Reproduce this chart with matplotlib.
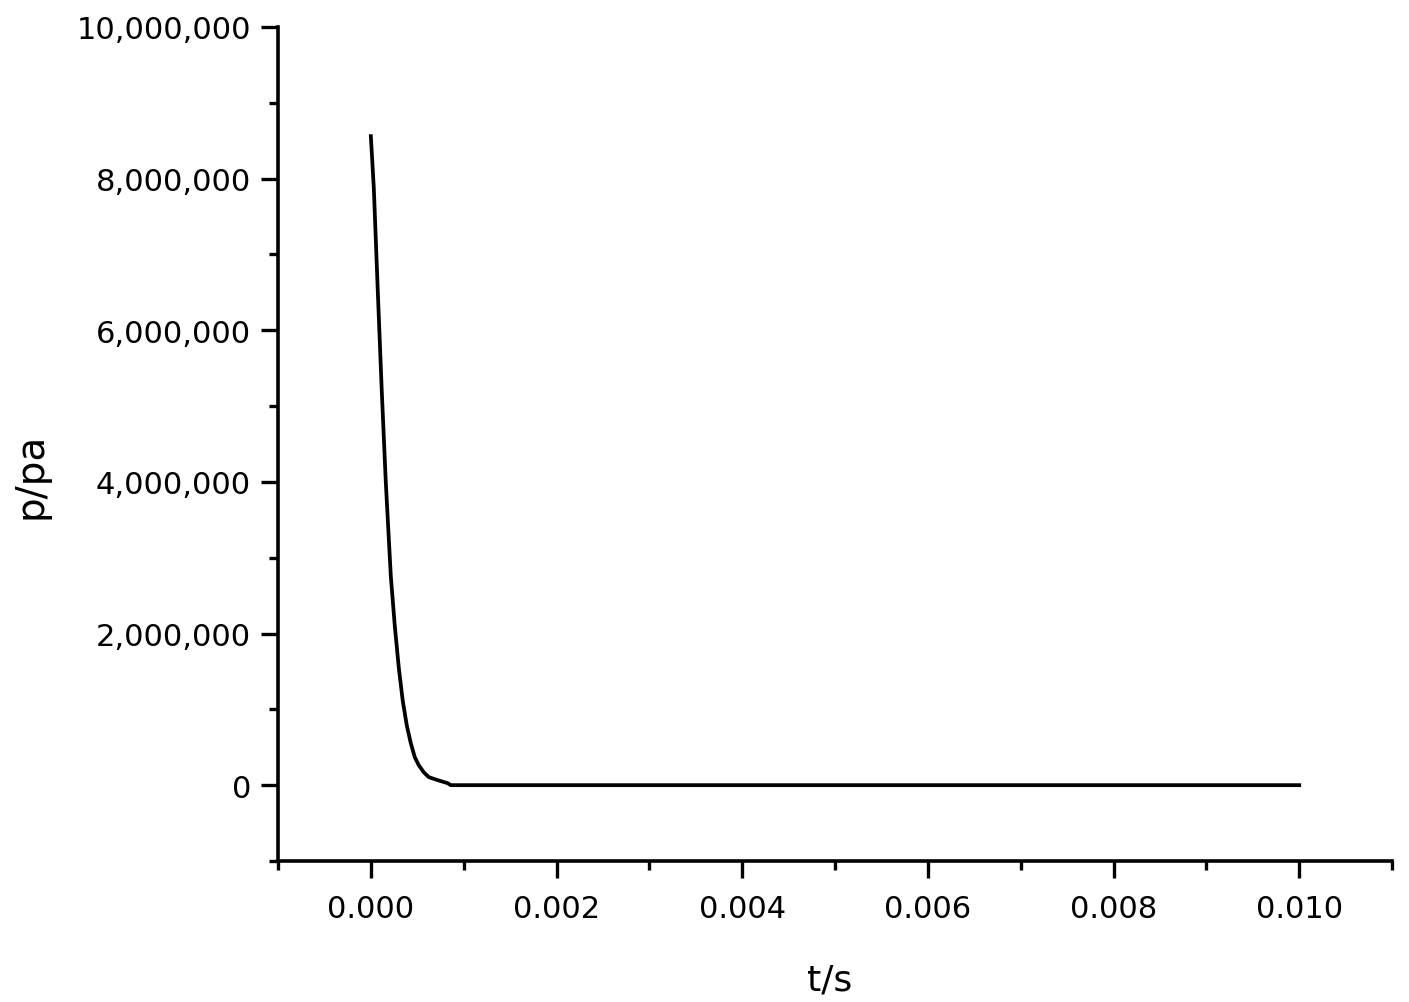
"""Pressure decay p(t) recreated from the reference plot."""

import matplotlib

matplotlib.use("Agg")
import matplotlib.pyplot as plt
from matplotlib.ticker import FuncFormatter, MultipleLocator

# time (s) and pressure (Pa)
t_s = [0.0, 0.0000323, 0.0000753, 0.000118, 0.000161, 0.000215, 0.000258,
       0.000301, 0.000344, 0.000387, 0.000430, 0.000473, 0.000516, 0.000570,
       0.000624, 0.000720, 0.000828, 0.00086, 0.0100]
p_pa = [8.56e6, 7.87e6, 6.50e6, 5.19e6, 4.00e6, 2.76e6, 2.10e6,
        1.55e6, 1.11e6, 0.79e6, 0.555e6, 0.37e6, 0.264e6, 0.17e6,
        0.106e6, 0.066e6, 0.026e6, 0.0, 0.0]

x_label = "t/s"
y_label = "p/pa"


def main() -> None:
    plt.rcParams["font.family"] = ["DejaVu Sans"]
    fig = plt.figure(figsize=(14.09, 10.03), dpi=100)
    ax = fig.add_axes([0.1973, 0.1406, 0.7907, 0.8315])

    ax.plot(t_s, p_pa, color="black", lw=2.7, solid_joinstyle="miter")

    ax.set_xlim(-0.001, 0.011)
    ax.set_ylim(-1.0e6, 1.0e7)
    ax.xaxis.set_major_locator(MultipleLocator(0.002))
    ax.xaxis.set_minor_locator(MultipleLocator(0.001))
    ax.yaxis.set_major_locator(MultipleLocator(2e6))
    ax.yaxis.set_minor_locator(MultipleLocator(1e6))
    ax.set_xticks([0.0, 0.002, 0.004, 0.006, 0.008, 0.010])
    ax.set_yticks([0, 2e6, 4e6, 6e6, 8e6, 1e7])
    ax.xaxis.set_major_formatter(FuncFormatter(lambda v, _: f"{v:.3f}"))
    ax.yaxis.set_major_formatter(FuncFormatter(lambda v, _: f"{v:,.0f}"))

    for side in ("top", "right"):
        ax.spines[side].set_visible(False)
    for side in ("left", "bottom"):
        ax.spines[side].set_linewidth(2.6)

    ax.tick_params(which="major", direction="out", length=12.5, width=2.4,
                   labelsize=22, pad=7)
    ax.tick_params(which="minor", direction="out", length=6.5, width=2.4)
    ax.tick_params(axis="x", which="major", pad=11)

    ax.set_xlabel(x_label, fontsize=26)
    ax.set_ylabel(y_label, fontsize=28)
    ax.xaxis.set_label_coords(0.495, -0.122)
    ax.yaxis.set_label_coords(-0.205, 0.463)

    fig.savefig("out.png", dpi=100, facecolor="white")
    plt.close(fig)


if __name__ == "__main__":
    main()
